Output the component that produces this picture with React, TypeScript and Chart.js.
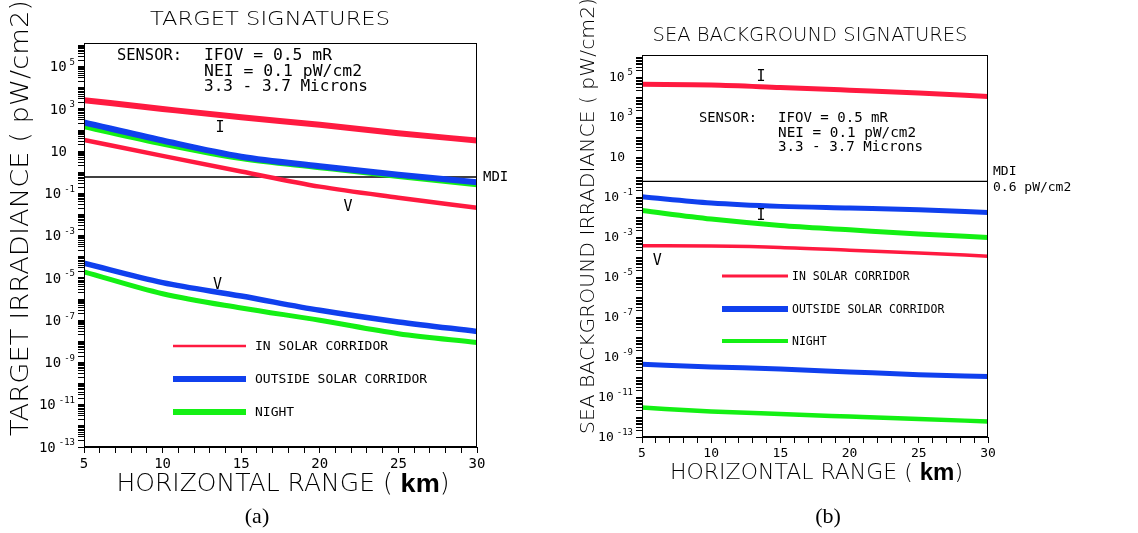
import React, { useEffect, useRef } from 'react';
import { Chart, registerables } from 'chart.js';

Chart.register(...registerables);

// ---------- data ----------
const rangeKm = [5, 10, 15, 20, 25, 30];
const xTickStep = 1;
const yLabelExponents = [5, 3, 1, -1, -3, -5, -7, -9, -11, -13];
const mdiIrradiance = 0.6;
const legendLabels = ['IN SOLAR CORRIDOR', 'OUTSIDE SOLAR CORRIDOR', 'NIGHT'];

// (a) target signatures, pW/cm2
const targetSolarI = [2.6e3, 1.0e3, 4.0e2, 1.8e2, 7.1e1, 3.2e1];
const targetSolarV = [3.4e1, 6.0, 1.1, 2.1e-1, 6.3e-2, 2.1e-2];
const targetOutsideI = [2.3e2, 3.2e1, 5.5, 1.95, 7.6e-1, 3.4e-1];
const targetOutsideV = [5.0e-5, 6.0e-6, 1.4e-6, 2.95e-7, 8.3e-8, 2.95e-8];
const targetNightI = [1.45e2, 2.2e1, 4.5, 1.66, 6.3e-1, 2.6e-1];
const targetNightV = [1.95e-5, 1.8e-6, 3.8e-7, 1.0e-7, 2.3e-8, 8.9e-9];

// (b) sea background signatures, pW/cm2
const seaSolarI = [4.3e4, 4.0e4, 3.0e4, 2.2e4, 1.6e4, 1.07e4];
const seaSolarV = [3.7e-4, 3.5e-4, 3.0e-4, 2.2e-4, 1.6e-4, 1.1e-4];
const seaOutsideI = [1.02e-1, 5.0e-2, 3.4e-2, 2.8e-2, 2.3e-2, 1.66e-2];
const seaOutsideV = [4.3e-10, 3.2e-10, 2.5e-10, 1.8e-10, 1.3e-10, 1.07e-10];
const seaNightI = [2.1e-2, 7.9e-3, 3.8e-3, 2.3e-3, 1.4e-3, 9.5e-4];
const seaNightV = [2.95e-12, 1.9e-12, 1.4e-12, 1.05e-12, 7.9e-13, 6.0e-13];

// ---------- styles ----------
const RED = '#ff1a40';
const BLUE = '#1040ee';
const GREEN = '#14f014';
const MONO = '"DejaVu Sans Mono", monospace';
const THIN = '"DejaVu Sans", sans-serif';
const X_AXIS_H = 34;

const sensorLines = ['IFOV = 0.5 mR', 'NEI = 0.1 pW/cm2', '3.3 - 3.7 Microns'];

const panelA = {
  left: 0,
  width: 560,
  area: { l: 84, t: 43, r: 477, b: 447 },
  yMax: 1.32e6,
  series: [
    { values: targetSolarI, color: RED, w: 6 },
    { values: targetSolarV, color: RED, w: 4.5 },
    { values: targetOutsideI, color: BLUE, w: 6 },
    { values: targetOutsideV, color: BLUE, w: 5.5 },
    { values: targetNightI, color: GREEN, w: 5 },
    { values: targetNightV, color: GREEN, w: 5 },
  ],
  title: { text: 'TARGET SIGNATURES', x: 270, y: 20, w: 240, font: `200 20px ${THIN}` },
  yTitle: { text: 'TARGET IRRADIANCE ( pW/cm2)', x: 22, y: 218, w: 436, font: `200 24px ${THIN}` },
  xTitle: { x: 283, y: 485, w: 333, size: 24 },
  sensor: {
    label: { x: 117, y: 56, w: 65 },
    lines: [
      { x: 204, y: 56, w: 128 },
      { x: 204, y: 71.5, w: 158 },
      { x: 204, y: 87, w: 164 },
    ],
    font: `16px ${MONO}`,
  },
  legend: { x1: 173, x2: 246, tx: 255, ys: [346, 379, 412], widths: [2.5, 6, 6], font: `13px ${MONO}` },
  tags: [
    { t: 'I', x: 13.65, y: 1.2e2 },
    { t: 'V', x: 21.8, y: 2.2e-2 },
    { t: 'V', x: 13.5, y: 4.5e-6 },
  ],
  mdi: [{ t: 'MDI', x: 483, dy: 0 }],
  mdiFont: `14px ${MONO}`,
  tickFont: 14,
  caption: { t: '(a)', x: 257, y: 517 },
};

const panelB = {
  left: 560,
  width: 578,
  area: { l: 82, t: 55, r: 428, b: 437 },
  yMax: 1.26e6,
  series: [
    { values: seaSolarI, color: RED, w: 5 },
    { values: seaSolarV, color: RED, w: 3.5 },
    { values: seaOutsideI, color: BLUE, w: 5 },
    { values: seaOutsideV, color: BLUE, w: 5 },
    { values: seaNightI, color: GREEN, w: 5 },
    { values: seaNightV, color: GREEN, w: 4.5 },
  ],
  title: { text: 'SEA BACKGROUND SIGNATURES', x: 250, y: 36, w: 315, font: `200 19px ${THIN}` },
  yTitle: { text: 'SEA BACKGROUND IRRADIANCE ( pW/cm2)', x: 29, y: 216, w: 436, font: `200 19px ${THIN}` },
  xTitle: { x: 256.5, y: 473, w: 293, size: 22 },
  sensor: {
    label: { x: 139, y: 118, w: 58 },
    lines: [
      { x: 218, y: 118, w: 110 },
      { x: 218, y: 133, w: 138 },
      { x: 218, y: 147.5, w: 145 },
    ],
    font: `14px ${MONO}`,
  },
  legend: { x1: 162, x2: 228, tx: 232, ys: [276, 309, 341], widths: [3, 6, 4], font: `11.5px ${MONO}` },
  tags: [
    { t: 'I', x: 13.6, y: 1.0e5 },
    { t: 'I', x: 13.6, y: 1.1e-2 },
    { t: 'V', x: 6.1, y: 6.3e-5 },
  ],
  mdi: [
    { t: 'MDI', x: 433, dy: -10 },
    { t: '0.6 pW/cm2', x: 433, dy: 6 },
  ],
  mdiFont: `13px ${MONO}`,
  tickFont: 13,
  caption: { t: '(b)', x: 268, y: 517 },
};

// ---------- helpers ----------
function drawFit(ctx: any, text: string, x: number, y: number, font: string, targetW: number, align = 'left', rot = 0) {
  ctx.save();
  ctx.font = font;
  const w = ctx.measureText(text).width;
  ctx.translate(x, y);
  if (rot) ctx.rotate(rot);
  ctx.scale(targetW / w, 1);
  ctx.textAlign = align;
  ctx.textBaseline = 'middle';
  ctx.fillStyle = '#000';
  ctx.fillText(text, 0, 0);
  ctx.restore();
}

function drawRich(ctx: any, parts: { text: string; font: string }[], cx: number, cy: number, targetW: number) {
  ctx.save();
  let total = 0;
  const ws = parts.map((p) => {
    ctx.font = p.font;
    const w = ctx.measureText(p.text).width;
    total += w;
    return w;
  });
  ctx.translate(cx, cy);
  ctx.scale(targetW / total, 1);
  ctx.textBaseline = 'middle';
  ctx.textAlign = 'left';
  ctx.fillStyle = '#000';
  let x = -total / 2;
  parts.forEach((p, i) => {
    ctx.font = p.font;
    ctx.fillText(p.text, x, 0);
    x += ws[i];
  });
  ctx.restore();
}

function buildLogTicks(min: number, max: number) {
  const out: { value: number }[] = [];
  for (let e = -13; e <= 6; e++) {
    for (let n = 1; n <= 9; n++) {
      const v = n * Math.pow(10, e);
      if (v >= min * 0.999 && v <= max) out.push({ value: v });
    }
  }
  return out;
}

function makeOverlay(p: any) {
  return {
    id: 'overlay',
    afterDraw(chart: any) {
      const ctx = chart.ctx;
      const { left, top, right, bottom } = chart.chartArea;
      const xs = chart.scales.x;
      const ys = chart.scales.y;
      ctx.save();
      ctx.strokeStyle = '#000';
      ctx.lineWidth = 1;
      ctx.strokeRect(left + 0.5, top + 0.5, right - left - 1, bottom - top - 1);

      // y tick labels: 10 with superscript exponent
      ctx.fillStyle = '#000';
      ctx.textBaseline = 'middle';
      yLabelExponents.forEach((e) => {
        const y = ys.getPixelForValue(Math.pow(10, e));
        const baseFont = `${p.tickFont}px ${MONO}`;
        const expFont = `9px ${MONO}`;
        if (e === 1) {
          ctx.font = baseFont;
          ctx.textAlign = 'right';
          ctx.fillText('10', left - 17, y + 1);
        } else {
          const expTxt = String(e);
          ctx.font = expFont;
          const ew = ctx.measureText(expTxt).width;
          ctx.textAlign = 'right';
          ctx.fillText(expTxt, left - 9, y - 4);
          ctx.font = baseFont;
          ctx.fillText('10', left - 9 - ew - 3, y + 1);
        }
      });

      // titles
      drawFit(ctx, p.title.text, p.title.x, p.title.y, p.title.font, p.title.w, 'center');
      drawFit(ctx, p.yTitle.text, p.yTitle.x, p.yTitle.y, p.yTitle.font, p.yTitle.w, 'center', -Math.PI / 2);
      drawRich(
        ctx,
        [
          { text: 'HORIZONTAL RANGE ( ', font: `200 ${p.xTitle.size}px ${THIN}` },
          { text: 'km', font: `bold ${p.xTitle.size + 2}px "Liberation Sans", Arial, sans-serif` },
          { text: ')', font: `200 ${p.xTitle.size}px ${THIN}` },
        ],
        p.xTitle.x,
        p.xTitle.y,
        p.xTitle.w
      );

      // sensor block
      drawFit(ctx, 'SENSOR:', p.sensor.label.x, p.sensor.label.y, p.sensor.font, p.sensor.label.w);
      sensorLines.forEach((t, i) => {
        const l = p.sensor.lines[i];
        drawFit(ctx, t, l.x, l.y, p.sensor.font, l.w);
      });

      // legend
      const colors = [RED, BLUE, GREEN];
      legendLabels.forEach((lab, i) => {
        const y = p.legend.ys[i];
        ctx.strokeStyle = colors[i];
        ctx.lineWidth = p.legend.widths[i];
        ctx.lineCap = 'butt';
        ctx.beginPath();
        ctx.moveTo(p.legend.x1, y);
        ctx.lineTo(p.legend.x2, y);
        ctx.stroke();
        ctx.fillStyle = '#000';
        ctx.font = p.legend.font;
        ctx.textAlign = 'left';
        ctx.textBaseline = 'middle';
        ctx.fillText(lab, p.legend.tx, y + 1);
      });

      // curve tags
      ctx.font = `15px ${MONO}`;
      ctx.textAlign = 'center';
      ctx.textBaseline = 'middle';
      ctx.fillStyle = '#000';
      p.tags.forEach((tg: any) => {
        ctx.fillText(tg.t, xs.getPixelForValue(tg.x), ys.getPixelForValue(tg.y));
      });

      // MDI labels
      const my = ys.getPixelForValue(mdiIrradiance);
      ctx.font = p.mdiFont;
      ctx.textAlign = 'left';
      p.mdi.forEach((m: any) => ctx.fillText(m.t, m.x, my + m.dy));

      // caption
      ctx.font = '22px "Liberation Serif", "DejaVu Serif", serif';
      ctx.textAlign = 'center';
      ctx.fillText(p.caption.t, p.caption.x, p.caption.y);
      ctx.restore();
    },
  };
}

function Panel({ cfg }: { cfg: any }) {
  const ref = useRef<HTMLCanvasElement | null>(null);
  useEffect(() => {
    const H = 533;
    const datasets: any[] = cfg.series.map((s: any) => ({
      data: rangeKm.map((x, i) => ({ x, y: s.values[i] })),
      borderColor: s.color,
      backgroundColor: s.color,
      borderWidth: s.w,
      pointRadius: 0,
      cubicInterpolationMode: 'monotone',
      borderCapStyle: 'butt',
      borderJoinStyle: 'round',
      fill: false,
    }));
    datasets.push({
      data: [
        { x: rangeKm[0], y: mdiIrradiance },
        { x: rangeKm[rangeKm.length - 1], y: mdiIrradiance },
      ],
      borderColor: '#000',
      borderWidth: 1.3,
      pointRadius: 0,
      fill: false,
    });
    const chart = new Chart(ref.current as HTMLCanvasElement, {
      type: 'line',
      data: { datasets },
      options: {
        animation: false,
        responsive: false,
        maintainAspectRatio: false,
        events: [],
        layout: {
          padding: {
            left: cfg.area.l - 10,
            top: cfg.area.t,
            right: cfg.width - cfg.area.r,
            bottom: H - cfg.area.b - X_AXIS_H,
          },
        },
        plugins: { legend: { display: false }, tooltip: { enabled: false }, title: { display: false } },
        scales: {
          x: {
            type: 'linear',
            min: rangeKm[0],
            max: rangeKm[rangeKm.length - 1],
            afterFit: (s: any) => {
              s.height = X_AXIS_H;
            },
            grid: { drawOnChartArea: false, drawTicks: true, tickLength: 6, color: '#000', lineWidth: 1 },
            border: { display: true, color: '#000', width: 1 },
            ticks: {
              stepSize: xTickStep,
              autoSkip: false,
              maxRotation: 0,
              minRotation: 0,
              padding: 3,
              color: '#000',
              font: { family: '"DejaVu Sans Mono", monospace', size: cfg.tickFont },
              callback: (v: any) => (Number(v) % 5 === 0 ? String(v) : ''),
            },
          },
          y: {
            type: 'logarithmic',
            min: 1e-13,
            max: cfg.yMax,
            afterFit: (s: any) => {
              s.width = 10;
            },
            afterBuildTicks: (s: any) => {
              s.ticks = buildLogTicks(1e-13, cfg.yMax);
            },
            grid: { drawOnChartArea: false, drawTicks: true, tickLength: 6, color: '#000', lineWidth: 1 },
            border: { display: true, color: '#000', width: 1 },
            ticks: { display: false },
          },
        },
      },
      plugins: [makeOverlay(cfg)],
    } as any);
    return () => chart.destroy();
  }, []);
  return (
    <canvas
      ref={ref}
      width={cfg.width}
      height={533}
      style={{ position: 'absolute', left: cfg.left, top: 0, width: cfg.width, height: 533 }}
    />
  );
}

export default function App() {
  return (
    <div style={{ position: 'absolute', left: 0, top: 0, width: 1138, height: 533, background: '#fff', overflow: 'hidden' }}>
      <Panel cfg={panelA} />
      <Panel cfg={panelB} />
    </div>
  );
}
